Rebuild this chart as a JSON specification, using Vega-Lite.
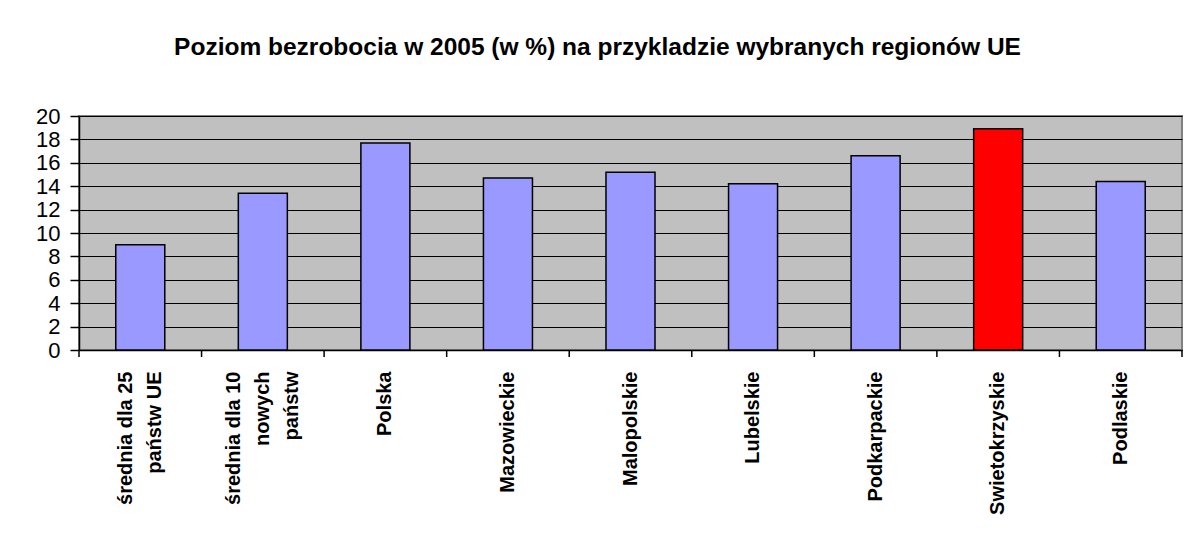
{
  "$schema": "https://vega.github.io/schema/vega-lite/v6.json",
  "autosize": "none",
  "width": 1103,
  "height": 234,
  "padding": {"left": 79, "top": 116, "right": 4, "bottom": 191},
  "background": "white",
  "title": {
    "text": "Poziom bezrobocia w 2005 (w %) na przykladzie wybranych regionów UE",
    "font": "Liberation Sans",
    "fontSize": 24.5,
    "fontWeight": "bold",
    "color": "black",
    "anchor": "middle",
    "dx": -33,
    "offset": 45
  },
  "config": {
    "view": {"fill": "#C0C0C0", "stroke": "#808080", "strokeWidth": 2},
    "font": "Liberation Sans",
    "axisX": {
      "ticks": false,
      "tickSize": 0,
      "domainColor": "black",
      "domainWidth": 1.5,
      "labelAngle": -90,
      "labelAlign": "right",
      "labelBaseline": "middle",
      "labelPadding": 21,
      "labelFont": "Liberation Sans",
      "labelFontSize": 20,
      "labelFontWeight": "bold",
      "labelColor": "black",
      "labelLineHeight": 29,
      "labelLimit": 300,
      "labelOverlap": false,
      "title": null
    },
    "axisY": {
      "labelOverlap": false,
      "labelBound": false,
      "labelFlush": false,
      "domainColor": "black",
      "domainWidth": 1.5,
      "tickColor": "black",
      "tickSize": 9,
      "tickWidth": 1.5,
      "labelPadding": 10,
      "labelFont": "Liberation Sans",
      "labelFontSize": 22,
      "labelColor": "black",
      "grid": true,
      "gridColor": "black",
      "gridWidth": 1.2,
      "gridOpacity": 1,
      "title": null
    }
  },
  "data": {
    "values": [
      {"region": "średnia dla 25 państw UE", "value": 9.0},
      {"region": "średnia dla 10 nowych państw", "value": 13.4},
      {"region": "Polska", "value": 17.7},
      {"region": "Mazowieckie", "value": 14.7},
      {"region": "Malopolskie", "value": 15.2},
      {"region": "Lubelskie", "value": 14.2},
      {"region": "Podkarpackie", "value": 16.6},
      {"region": "Swietokrzyskie", "value": 18.9},
      {"region": "Podlaskie", "value": 14.4}
    ]
  },
  "encoding": {
    "x": {
      "field": "region",
      "type": "nominal",
      "sort": null,
      "title": null,
      "scale": {"paddingInner": 0, "paddingOuter": 0},
      "axis": {
        "labelOffset": {"condition": [{"test": "datum.label == 'średnia dla 25 państw UE'", "value": -14.5}, {"test": "datum.label == 'średnia dla 10 nowych państw'", "value": -29}], "value": 0},
        "labelExpr": "datum.label == 'średnia dla 25 państw UE' ? ['średnia dla 25', 'państw UE'] : datum.label == 'średnia dla 10 nowych państw' ? ['średnia dla 10', 'nowych', 'państw'] : datum.label"
      }
    },
    "y": {
      "type": "quantitative",
      "title": null,
      "scale": {"domain": [0, 20], "nice": false},
      "axis": {"values": [0, 2, 4, 6, 8, 10, 12, 14, 16, 18, 20]}
    }
  },
  "layer": [
    {
      "mark": {"type": "bar", "width": {"band": 0.4}, "stroke": "black", "strokeWidth": 1.5},
      "encoding": {
        "y": {"field": "value", "type": "quantitative"},
        "color": {
          "condition": {"test": "datum.region === 'Swietokrzyskie'", "value": "#FF0000"},
          "value": "#9999FF"
        },
        "opacity": {"value": 1}
      }
    },
    {
      "mark": {"type": "tick", "orient": "vertical", "size": 7, "thickness": 1.5, "color": "black", "yOffset": 3.5, "opacity": 1},
      "encoding": {
        "x": {"field": "region", "type": "nominal", "sort": null, "bandPosition": 0},
        "y": {"datum": 0, "type": "quantitative"}
      }
    },
    {
      "transform": [{"filter": "datum.region === 'Podlaskie'"}],
      "mark": {"type": "tick", "orient": "vertical", "size": 7, "thickness": 1.5, "color": "black", "yOffset": 3.5, "opacity": 1},
      "encoding": {
        "x": {"field": "region", "type": "nominal", "sort": null, "bandPosition": 1},
        "y": {"datum": 0, "type": "quantitative"}
      }
    }
  ]
}
